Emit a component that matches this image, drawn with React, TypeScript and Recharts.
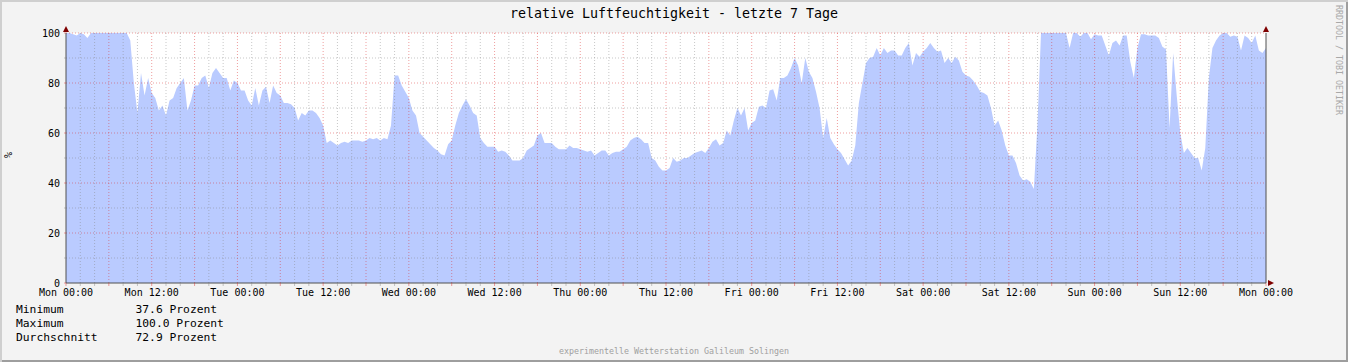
import React from 'react';
import { ComposedChart, Area, XAxis, YAxis, CartesianGrid, ReferenceLine, ReferenceDot } from 'recharts';

// relative Luftfeuchtigkeit, Halbstundenwerte ab Mon 00:00 (7 Tage)
const humidity: number[] = [
  100, 100, 99.5, 99, 100, 99.5, 98, 100, 100, 100, 100, 100, 100, 100, 100, 100, 100, 100,
  97, 80, 68, 84, 75, 82, 76, 74, 69, 71, 67, 73,
  74, 78, 80, 82, 69, 73, 79, 79, 82, 83, 78, 84,
  86, 84, 82, 82, 77, 81, 80, 77, 77, 73, 71, 78,
  71, 77, 78.5, 72, 79, 76, 75, 72, 72, 71.5, 70, 65,
  68, 67, 69, 69, 68, 66, 63, 56, 57, 56, 55, 56,
  56.5, 56, 57, 57, 57, 56.5, 57, 58, 57.5, 58,
  57, 58, 57.5, 63, 83, 83, 79, 76.5, 74, 69, 67, 60,
  58.5, 57, 55.5, 54, 53, 51.5, 51, 55.5, 57, 63, 68, 71,
  73.5, 71, 68, 67, 58, 56, 54.5, 54.5, 54.5, 52.5, 53, 52.5,
  51, 49, 49, 49, 50, 53, 54, 55, 59, 60, 56, 56,
  56, 54.5, 53.5, 53.5, 53.5, 55, 54, 54, 53.5, 53, 52.5, 53,
  51, 52, 53, 53, 51, 52, 52.5, 52.5, 53.5, 54.5, 57, 58,
  58.5, 57.5, 56, 56, 50, 49, 46.5, 45, 45, 46, 50, 48.5,
  49, 50, 50, 51, 52, 52.5,
  53, 52, 54, 56.5, 57.5, 55, 56, 61, 59, 65, 70, 67,
  70, 61, 64, 65, 70.5, 71, 70, 77, 77.5, 73, 82, 82,
  83, 86, 90, 87, 80, 90, 84.5, 82, 76.5, 70, 58, 66,
  58, 55.5, 53.5, 52, 49.5, 47, 49, 55, 72, 80, 88, 90,
  90.5, 94, 91, 94, 92, 93, 93, 91, 91, 94, 96, 87,
  92, 90.5, 92.5, 94, 96, 94, 92.5, 93, 88, 90, 88, 90.5,
  89, 84.5, 83, 82.5, 81, 79, 76.5, 76, 75, 70, 63, 65,
  61, 55, 51, 51, 48, 43, 41, 41.5, 40.5, 37.6, 63, 100,
  100, 100, 100, 100, 100, 100, 100, 94, 100, 100, 98.5, 100,
  100, 97.5, 99.5, 99, 99, 95, 91, 96, 97, 95, 99, 99,
  88.5, 82, 94, 99.5, 99.5, 99, 99, 99, 98, 94.5, 93.5, 62,
  92, 75, 60, 52, 54, 52, 50, 50, 45, 54, 82, 94,
  97, 99, 100, 100, 98.5, 99, 98.5, 93, 99, 98, 96, 99,
  93, 92, 94,
];

const dayNames = ['Mon', 'Tue', 'Wed', 'Thu', 'Fri', 'Sat', 'Sun', 'Mon'];
const hourTicks = Array.from({ length: 85 }, (_, i) => i * 2);
const percentTicks = [0, 10, 20, 30, 40, 50, 60, 70, 80, 90, 100];
const legendRows = [
  ['Minimum', '37.6 Prozent'],
  ['Maximum', '100.0 Prozent'],
  ['Durchschnitt', '72.9 Prozent'],
];

const data = humidity.map((v, i) => ({ h: i * 0.5, v }));

const MONO = '"DejaVu Sans Mono", monospace';
const MINOR = 'rgba(130,130,130,0.45)';
const MAJOR = 'rgba(220,40,40,0.45)';
const ARROW = '#7F0000';
const AXIS = '#505050';

const XTick = (props: any) => {
  const { x, y, payload } = props;
  const h = payload.value;
  const major = h % 6 === 0;
  const label = h % 12 === 0;
  const txt = dayNames[Math.floor(h / 24)] + (h % 24 === 0 ? ' 00:00' : ' 12:00');
  return (
    <g>
      <line x1={x} x2={x} y1={y} y2={y + 3} stroke={major ? MAJOR : MINOR} />
      {label && (
        <text x={x} y={y + 12.5} textAnchor="middle" fontSize={10} fontFamily={MONO} fill="#000">
          {txt}
        </text>
      )}
    </g>
  );
};

const LeftTick = (props: any) => {
  const { x, y, payload } = props;
  const major = payload.value % 20 === 0;
  return (
    <g>
      <line x1={x - 2} x2={x} y1={y} y2={y} stroke={major ? MAJOR : MINOR} />
      {major && (
        <text x={x - 6} y={y + 3.6} textAnchor="end" fontSize={10} fontFamily={MONO} fill="#000">
          {payload.value}
        </text>
      )}
    </g>
  );
};

const RightTick = (props: any) => {
  const { x, y, payload } = props;
  const major = payload.value % 20 === 0;
  return (
    <g>
      <line x1={x} x2={x + 2} y1={y} y2={y} stroke={major ? MAJOR : MINOR} />
      {major && (
        <text x={x + 38} y={y + 3.6} textAnchor="end" fontSize={10} fontFamily={MONO} fill="#000">
          {payload.value}
        </text>
      )}
    </g>
  );
};

const UpArrow = (props: any) => {
  const { cx, cy } = props;
  return <polygon points={`${cx - 3},${cy - 1} ${cx + 3},${cy - 1} ${cx},${cy - 7}`} fill={ARROW} />;
};

const RightArrow = (props: any) => {
  const { cx, cy } = props;
  return <polygon points={`${cx + 2},${cy - 3} ${cx + 2},${cy + 3} ${cx + 8},${cy}`} fill={ARROW} />;
};

const App = () => {
  return (
    <div
      style={{
        position: 'absolute',
        left: 0,
        top: 0,
        width: 1348,
        height: 362,
        background: '#F3F3F3',
        boxShadow: 'inset 2px 2px 0 #CFCFCF, inset -2px -2px 0 #9E9E9E',
        fontFamily: MONO,
      }}
    >
      {/* Titel */}
      <div style={{ position: 'absolute', left: 0, width: 1348, top: 6, textAlign: 'center', fontSize: 13.3, lineHeight: '16px', color: '#000' }}>
        relative Luftfeuchtigkeit - letzte 7 Tage
      </div>

      <ComposedChart width={1348} height={362} data={data} margin={{ top: 33, right: 0, bottom: 0, left: 0 }}>
        <CartesianGrid fill="#FFFFFF" horizontal={false} vertical={false} />
        <XAxis
          dataKey="h"
          type="number"
          domain={[0, 168]}
          ticks={hourTicks}
          interval={0}
          height={79}
          tickSize={0}
          tickMargin={0}
          tick={<XTick />}
          axisLine={{ stroke: AXIS }}
        />
        <YAxis
          yAxisId="l"
          domain={[0, 100]}
          ticks={percentTicks}
          interval={0}
          width={66}
          tickSize={0}
          tickMargin={0}
          tick={<LeftTick />}
          axisLine={{ stroke: AXIS }}
          label={{ value: '%', angle: -90, position: 'insideLeft', offset: 8, fontSize: 10, fontFamily: MONO, fill: '#000' }}
        />
        <YAxis
          yAxisId="r"
          orientation="right"
          domain={[0, 100]}
          ticks={percentTicks}
          interval={0}
          width={82}
          tickSize={0}
          tickMargin={0}
          tick={<RightTick />}
          axisLine={{ stroke: AXIS }}
        />

        <Area
          yAxisId="l"
          dataKey="v"
          type="linear"
          stroke="none"
          fill="#BACBFF"
          fillOpacity={1}
          isAnimationActive={false}
        />

        {/* Gitter */}
        {percentTicks.filter((p) => p > 0).map((p) => (
          <ReferenceLine key={'y' + p} yAxisId="l" y={p} stroke={p % 20 === 0 ? MAJOR : MINOR} strokeDasharray="1 2" />
        ))}
        {hourTicks.filter((h) => h > 0 && h < 168).map((h) => (
          <ReferenceLine key={'x' + h} yAxisId="l" x={h} stroke={h % 6 === 0 ? MAJOR : MINOR} strokeDasharray="1 2" />
        ))}

        {/* Pfeile */}
        <ReferenceDot yAxisId="l" x={0} y={100} shape={<UpArrow />} />
        <ReferenceDot yAxisId="l" x={168} y={100} shape={<UpArrow />} />
        <ReferenceDot yAxisId="l" x={168} y={0} shape={<RightArrow />} />
      </ComposedChart>

      {/* Legende */}
      <div style={{ position: 'absolute', left: 16, top: 303, fontSize: 11.3, lineHeight: '14px', color: '#000' }}>
        {legendRows.map(([name, value]) => (
          <div key={name} style={{ position: 'relative', height: 14 }}>
            <span>{name}</span>
            <span style={{ position: 'absolute', left: 119.5, whiteSpace: 'pre' }}>{value}</span>
          </div>
        ))}
      </div>

      {/* Fusszeile */}
      <div style={{ position: 'absolute', left: 0, width: 1348, top: 346, textAlign: 'center', fontSize: 8.3, lineHeight: '10px', color: '#A0A0A0' }}>
        experimentelle Wetterstation Galileum Solingen
      </div>

      {/* Wasserzeichen */}
      <div
        style={{
          position: 'absolute',
          left: 1334,
          top: 5,
          writingMode: 'vertical-rl',
          fontSize: 8.3,
          lineHeight: '10px',
          color: '#A8A8A8',
          whiteSpace: 'nowrap',
        }}
      >
        RRDTOOL / TOBI OETIKER
      </div>
    </div>
  );
};

export default App;
